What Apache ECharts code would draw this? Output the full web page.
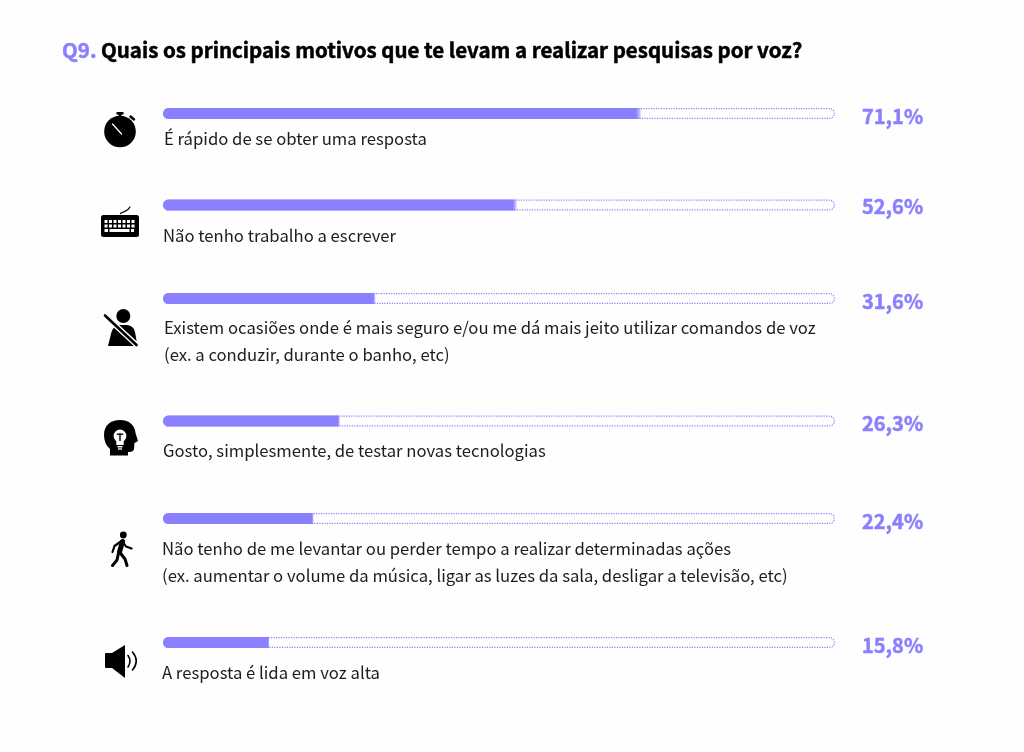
<!DOCTYPE html>
<html><head><meta charset="utf-8">
<style>html,body{margin:0;padding:0;background:#fefefe}#c{width:1024px;height:752px}</style>
<script src="https://cdn.jsdelivr.net/npm/echarts@6/dist/echarts.min.js"></script>
</head><body><div id="c"></div>
<script>
const titleKey = 'Q9.';
const titleText = 'Quais os principais motivos que te levam a realizar pesquisas por voz?';
const values = [71.1, 52.6, 31.6, 26.3, 22.4, 15.8];
const fullScale = [100, 100, 100, 100, 100, 100];
const answers = [
  ['É rápido de se obter uma resposta'],
  ['Não tenho trabalho a escrever'],
  ['Existem ocasiões onde é mais seguro e/ou me dá mais jeito utilizar comandos de voz', '(ex. a conduzir, durante o banho, etc)'],
  ['Gosto, simplesmente, de testar novas tecnologias'],
  ['Não tenho de me levantar ou perder tempo a realizar determinadas ações', '(ex. aumentar o volume da música, ligar as luzes da sala, desligar a televisão, etc)'],
  ['A resposta é lida em voz alta']
];

// layout only
const FONT = '"Noto Sans CJK SC","Noto Sans",sans-serif';
const PURPLE = '#8a80ff', INK = '#1c1c1c';
const barCenter = [113.5, 205, 298.5, 421, 518.5, 642.5];
const valueDy = [2.5, 1, 3, 2.5, 3, 3];
const textX = [164, 163, 164, 163, 162, 162];
const textY = [[139], [236], [328, 355], [451], [549, 575.5], [673]];
const BAR_H = 11, BAR_L = 163, BAR_W = 672;

const grids = [], xAxes = [], yAxes = [], series = [], graphic = [];
values.forEach((v, i) => {
  grids.push({left: BAR_L, width: BAR_W, top: barCenter[i] - BAR_H / 2, height: BAR_H, containLabel: false});
  xAxes.push({type: 'value', gridIndex: i, min: 0, max: 100, show: false});
  yAxes.push({type: 'category', gridIndex: i, data: [answers[i][0]], show: false});
  series.push({
    type: 'bar', xAxisIndex: i, yAxisIndex: i, barWidth: BAR_H, barGap: '-100%', silent: true, animation: false, z: 3,
    data: [v],
    itemStyle: {borderRadius: [6, 0, 0, 6], color: {type: 'linear', x: 0, y: 0, x2: 1, y2: 0, colorStops: [
      {offset: 0, color: PURPLE}, {offset: 0.99, color: PURPLE}, {offset: 1, color: 'rgba(138,128,255,0.35)'}]}}
  });
  series.push({
    type: 'bar', xAxisIndex: i, yAxisIndex: i, barWidth: BAR_H, barGap: '-100%', silent: true, animation: false, z: 2,
    data: [fullScale[i]],
    itemStyle: {color: 'rgba(255,255,255,0)', borderColor: PURPLE, borderWidth: 1.2, borderType: [1.2, 1.3], borderRadius: 6},
    label: {show: true, position: 'right', distance: 27, offset: [0, valueDy[i]],
      formatter: () => v.toFixed(1).replace('.', ',') + '%',
      fontFamily: FONT, fontWeight: 'bold', fontSize: 20, color: PURPLE, textBorderColor: PURPLE, textBorderWidth: 0.5}
  });
  answers[i].forEach((line, k) => graphic.push({type: 'text', silent: true, x: textX[i], y: textY[i][k],
    style: {text: line, fontFamily: FONT, fontSize: 16.68, fill: INK, textVerticalAlign: 'middle', textBaseline: 'middle'}}));
});

graphic.push({type: 'text', x: 62, y: 50, style: {text: titleKey, fontFamily: FONT, fontWeight: 'bold', fontSize: 20.5, fill: PURPLE, textBaseline: 'middle', textVerticalAlign: 'middle', stroke: PURPLE, lineWidth: 0.5}});
graphic.push({type: 'text', x: 101, y: 50, style: {text: titleText, fontFamily: FONT, fontWeight: 'bold', fontSize: 20.5, fill: '#000', textBaseline: 'middle', textVerticalAlign: 'middle', stroke: '#000', lineWidth: 0.5}});

// pictograms
const K = '#000', W = '#fefefe';
const p = (d, fill, stroke, lw) => ({type: 'path', silent: true, shape: {pathData: d}, style: {fill: fill || 'none', stroke: stroke || 'none', lineWidth: lw || 0, lineCap: 'round', lineJoin: 'round'}});
const c = (x, y, r, fill) => ({type: 'circle', silent: true, shape: {cx: x, cy: y, r}, style: {fill}});
const r = (x, y, w, h, fill, rad) => ({type: 'rect', silent: true, shape: {x, y, width: w, height: h, r: rad || 0}, style: {fill}});
const icons = [
  // stopwatch
  c(120, 131.5, 15.8, K), r(116.5, 112, 7, 2.6, K), r(118.6, 114, 2.8, 4, K),
  p('M130.5,116.5 L134,119.5', null, K, 2.4), p('M112.5,124 L121.5,134', null, W, 1.3),
  // keyboard
  r(101, 215, 38, 22, K, 2.5), p('M120.5,213.5 C124,210.5 127,212.5 130,207', null, K, 1.3),
  // seat belt
  c(123.3, 316, 7, K),
  p('M108,346 L111.5,332 Q113,326 120,325 L127,325 Q134,326 135,332 L137.5,346 Z', K),
  p('M101,312 L140,348', null, W, 5.5), p('M105,315.5 L136.5,345', null, K, 2.6),
  // head with bulb
  p('M104,435 C104,425 111,420 120,420 C130,420 135,426 135.5,433 L138,441 L134.5,443 L134,449 Q133.5,452 129,452 L128,452 L128,455.5 L110,455.5 L110,449 Q104,444 104,435 Z', K),
  c(120, 436, 6.4, W), r(116.3, 441, 7.4, 4, W), r(117.5, 446, 5, 1.5, W), r(118, 448.3, 4, 1.3, W),
  r(116.8, 433.5, 6.4, 1.4, K), r(119.3, 433.5, 1.4, 7.5, K),
  // walker
  c(123.3, 535, 3.4, K),
  p('M122.5,541.5 L119.5,552', null, K, 5),
  p('M121.5,541 L114.5,546 L112.5,552', null, K, 2.2),
  p('M123,542 L126,546.5 L131.5,548.5', null, K, 2.2),
  p('M119.5,552 L125,559 L127,565.5', null, K, 3),
  p('M118.5,553 L117,560 L112.5,565.5', null, K, 3),
  // speaker
  p('M105,654 Q105,653 106,653 L112,653 L125,645 L125,678 L112,668 L106,668 Q105,668 105,667 Z', K),
  p('M128,655.5 Q132,661 128,667', null, K, 1.6),
  p('M132.5,652 Q140,661 132.5,670', null, K, 1.6)
];
// key caps
[[220, 7], [224.5, 7], [229, 3]].forEach(([y, n], row) => {
  if (row < 2) for (let j = 0; j < n; j++) icons.push(r(104.5 + j * 4.5, y, 3, 3, W));
  else { icons.push(r(104.5, y, 3.5, 3, W), r(109.5, y, 20, 3, W), r(131, y, 3, 3, W)); }
});
series.push({type: 'custom', coordinateSystem: 'none', silent: true, animation: false, z: 5, data: [0],
  renderItem: () => ({type: 'group', children: icons})});

const chart = echarts.init(document.getElementById('c'), null, {renderer: 'canvas'});
chart.setOption({animation: false, backgroundColor: '#fefefe', grid: grids, xAxis: xAxes, yAxis: yAxes, series, graphic});
</script></body></html>
